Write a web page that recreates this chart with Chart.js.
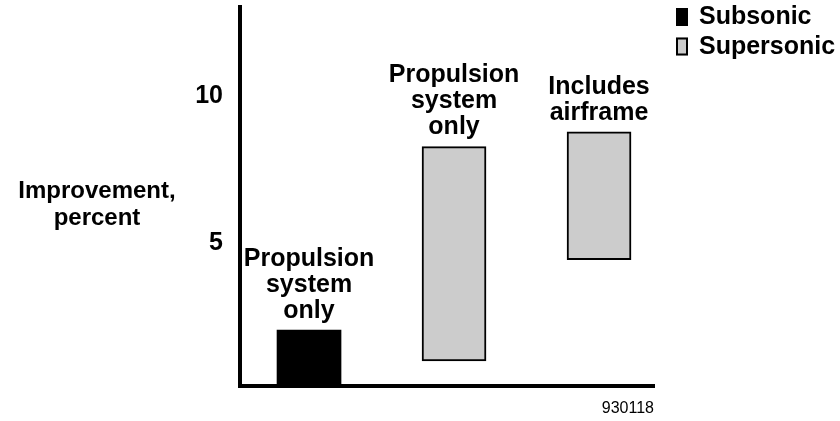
<!DOCTYPE html>
<html>
<head>
<meta charset="utf-8">
<script src="https://cdn.jsdelivr.net/npm/chart.js@4.4.0/dist/chart.umd.min.js"></script>
<style>
  html, body { margin: 0; padding: 0; background: #fff; }
</style>
</head>
<body>
<canvas id="chart" width="840" height="421"></canvas>
<script>
// one entry per bar, left to right
var barPos = [1, 2, 3];
var barLow = [0, 0.85, 4.3];
var barHigh = [1.9, 8.15, 8.65];
var barSeries = ["Subsonic", "Supersonic", "Supersonic"];
var barLabels = [
    ["Propulsion", "system", "only"],
    ["Propulsion", "system", "only"],
    ["Includes", "airframe"]
];
var seriesNames = ["Subsonic", "Supersonic"];
var seriesColors = ["#000000", "#cccccc"];
var yTicks = [5, 10];
var yTitle = ["Improvement,", "percent"];
var figureId = "930118";

var FONT = '"Liberation Sans", Arial, Helvetica, sans-serif';

function pointsFor(name) {
    var pts = [];
    barPos.forEach(function (x, i) {
        if (barSeries[i] === name) {
            pts.push({ x: x, y: [barLow[i], barHigh[i]] });
        }
    });
    return pts;
}

var datasets = seriesNames.map(function (name, si) {
    return {
        label: name,
        data: pointsFor(name),
        backgroundColor: seriesColors[si],
        borderColor: "#000",
        borderWidth: si === 0 ? 0 : 2,
        borderSkipped: false,
        barThickness: 64,
        grouped: false
    };
});

// text on the picture: bar captions, y title, legend
var annotate = {
    id: "annotate",
    afterDraw: function (chart) {
        var ctx = chart.ctx;
        var area = chart.chartArea;
        ctx.save();
        ctx.fillStyle = "#000";
        ctx.font = "bold 25px " + FONT;
        ctx.textAlign = "center";
        ctx.textBaseline = "middle";

        chart.data.datasets.forEach(function (ds, di) {
            var meta = chart.getDatasetMeta(di);
            meta.data.forEach(function (bar, j) {
                var idx = barPos.indexOf(ds.data[j].x);
                var lines = barLabels[idx];
                lines.forEach(function (t, k) {
                    ctx.fillText(t, bar.x, bar.y - 19 - (lines.length - 1 - k) * 26);
                });
            });
        });

        // y axis title, horizontal
        ctx.font = "bold 24px " + FONT;
        yTitle.forEach(function (t, k) {
            ctx.fillText(t, area.left - 143, 191 + k * 27);
        });

        // legend
        ctx.font = "bold 25px " + FONT;
        ctx.textAlign = "left";
        chart.data.datasets.forEach(function (ds, di) {
            var top = 8 + di * 29.5;
            ctx.fillStyle = ds.backgroundColor;
            ctx.fillRect(676, top, 12, 18);
            if (ds.borderWidth) {
                ctx.strokeStyle = "#000";
                ctx.lineWidth = 2;
                ctx.strokeRect(677, top + 1, 10, 16);
            }
            ctx.fillStyle = "#000";
            ctx.fillText(ds.label, 699, top + 9.5);
        });
        ctx.restore();
    }
};

new Chart(document.getElementById("chart"), {
    type: "bar",
    data: { datasets: datasets },
    options: {
        responsive: false,
        animation: false,
        devicePixelRatio: 1,
        layout: { padding: { top: 7, right: 186, bottom: 0, left: 0 } },
        plugins: {
            legend: { display: false },
            tooltip: { enabled: false }
        },
        scales: {
            x: {
                type: "linear",
                offset: false,
                min: 0.524,
                max: 3.379,
                grid: { display: false, drawTicks: false },
                border: { display: true, color: "#000", width: 4 },
                ticks: { display: false },
                title: {
                    display: true,
                    text: figureId,
                    align: "end",
                    color: "#000",
                    font: { family: FONT, size: 16 },
                    padding: { top: 0, bottom: 3 }
                },
                afterFit: function (scale) {
                    scale.height = 35;
                }
            },
            y: {
                min: 0,
                max: 12.9,
                grid: { display: false, drawTicks: true, tickLength: 17 },
                border: { display: true, color: "#000", width: 4 },
                ticks: {
                    color: "#000",
                    padding: 0,
                    labelOffset: 4,
                    font: { family: FONT, size: 25, weight: "bold", lineHeight: 0.5 }
                },
                afterBuildTicks: function (scale) {
                    scale.ticks = yTicks.map(function (v) { return { value: v }; });
                },
                afterFit: function (scale) {
                    scale.width = 240;
                }
            }
        }
    },
    plugins: [annotate]
});
</script>
</body>
</html>
